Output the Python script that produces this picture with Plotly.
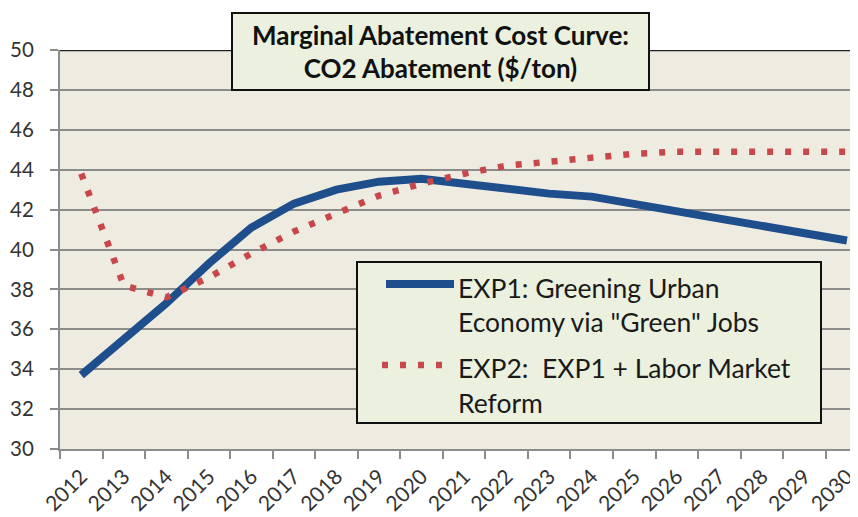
import plotly.graph_objects as go

years = [str(y) for y in range(2012, 2031)]
exp1 = [33.7, 35.5, 37.3, 39.3, 41.1, 42.3, 43.0, 43.4, 43.55, 43.3, 43.0, 42.8,
        42.65, 42.3, 41.85, 41.55, 41.15, 40.8, 40.45]
exp2 = [43.8, 38.2, 37.6, 38.6, 39.8, 40.9, 41.8, 42.7, 43.3, 43.8, 44.2, 44.4,
        44.6, 44.8, 44.9, 44.9, 44.9, 44.9, 44.9]
name1_lines = ["EXP1: Greening Urban", "Economy via \"Green\" Jobs"]
name2_lines = ["EXP2:  EXP1 + Labor Market", "Reform"]
title_text = "<b>Marginal Abatement Cost Curve:<br>CO2 Abatement ($/ton)</b>"
y_ticks = list(range(30, 51, 2))

BLUE = "#1F4E8D"
RED = "#C8474A"
BG = "#EEECE1"
GREEN = "#EBF1DE"
GRID = "#8C8C8C"
FONT = "Lato"

# page body has an 8px margin; figure is drawn from (8, 8)
W, H = 850, 509
ML, MR, MT, MB = 52, 0, 42, 68
PW = W - ML - MR
PH = H - MT - MB
OFF = 8

def px2x(px):
    return (px - OFF - ML) / PW

def py2y(py):
    return (H - MB - (py - OFF)) / PH

DOT = "6px,12px"

fig = go.Figure()
fig.add_trace(go.Scatter(x=years, y=exp1, mode="lines", name=" ".join(name1_lines),
                         line=dict(color=BLUE, width=8), showlegend=False))
fig.add_trace(go.Scatter(x=years, y=exp2, mode="lines", name=" ".join(name2_lines),
                         line=dict(color=RED, width=6.5, dash=DOT), showlegend=False))

shapes = [
    dict(type="line", xref="paper", yref="y", x0=0, x1=1, y0=50, y1=50,
         line=dict(color="#222222", width=2.5)),
    dict(type="rect", xref="paper", yref="paper", x0=px2x(357), x1=px2x(821),
         y0=py2y(423), y1=py2y(262), fillcolor=GREEN, line=dict(color="#111111", width=2)),
    dict(type="line", xref="paper", yref="paper", x0=px2x(386), x1=px2x(454),
         y0=py2y(284), y1=py2y(284), line=dict(color=BLUE, width=8)),
    dict(type="line", xref="paper", yref="paper", x0=px2x(382), x1=px2x(452),
         y0=py2y(365), y1=py2y(365), line=dict(color=RED, width=6.5, dash=DOT)),
]

annotations = [
    dict(text=title_text, xref="paper", yref="paper", x=px2x(440.5), y=py2y(51.5),
         xanchor="center", yanchor="middle", showarrow=False,
         font=dict(family=FONT, size=26, color="#111111"),
         bgcolor=GREEN, bordercolor="#111111", borderwidth=2, borderpad=2,
         width=411, height=71),
]
line_centers = [288, 322, 368, 403]
for txt, cy in zip(name1_lines + name2_lines, line_centers):
    annotations.append(dict(text=txt, xref="paper", yref="paper", x=px2x(456), y=py2y(cy),
                            xanchor="left", yanchor="middle", showarrow=False,
                            font=dict(family=FONT, size=26.5, color="#1a1a1a")))

fig.update_layout(
    width=W, height=H,
    margin=dict(l=ML, r=MR, t=MT, b=MB, pad=0),
    paper_bgcolor="white", plot_bgcolor=BG,
    font=dict(family=FONT, color="#333333"),
    shapes=shapes, annotations=annotations,
    showlegend=False,
)
fig.update_xaxes(type="category", categoryarray=years, range=[-0.5, 18.26],
                 tickson="boundaries", ticks="outside", ticklen=8, tickwidth=2,
                 tickcolor=GRID, showline=True, linecolor=GRID, linewidth=2,
                 showgrid=False, tickangle=-45, automargin=False,
                 ticklabelstandoff=5,
                 tickfont=dict(size=21, color="#333333"))
fig.update_yaxes(range=[30, 50], tickvals=y_ticks, ticks="outside", ticklen=8,
                 tickwidth=2, tickcolor=GRID, showline=True, linecolor=GRID, linewidth=2,
                 showgrid=True, gridcolor=GRID, gridwidth=2, zeroline=False,
                 automargin=False, ticklabelstandoff=12,
                 tickfont=dict(size=20.5, color="#333333"))

fig.write_html("out.html")
